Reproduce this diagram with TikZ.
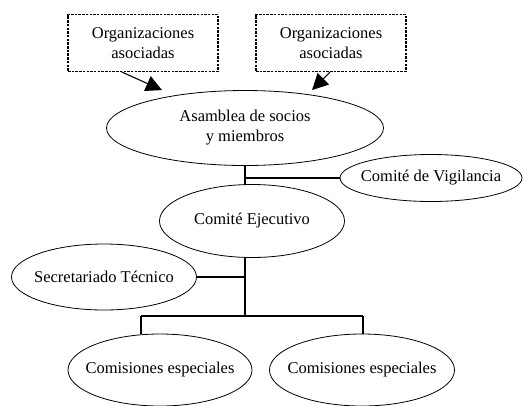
\documentclass[tikz,border=0pt]{standalone}
\usepackage{fontspec}
\setmainfont{Liberation Serif}
\usetikzlibrary{shapes.geometric,arrows.meta,positioning}
\tikzset{>={Triangle[length=16pt,width=16pt]}}

\begin{document}
\begin{tikzpicture}[x=1pt,y=-1pt,font=\fontsize{16.5}{20}\selectfont]

        % Setup the styles for the boxes, ellipses and links
        \tikzset{org style/.style={ellipse,
                                   draw=black,
                                   line width=0.8pt,
                                   inner xsep=-15pt,
                                   inner ysep=0pt,
                                   align=center},
                 assoc style/.style={rectangle,
                                     draw=black,
                                     line width=1.2pt,
                                     dash pattern=on 2.5pt off 1.2pt,
                                     align=center,
                                     minimum width=150pt,
                                     minimum height=57pt},
                 link/.style={line width=1.1pt, draw=black}}

        \useasboundingbox (0,0) rectangle (530,405);

        % Draw the associated organizations
        \node[assoc style] at (143,43) (assoc1) {Organizaciones\\asociadas};
        \node[assoc style] at (331,43) (assoc2) {Organizaciones\\asociadas};

        % Draw the organs
        \node[org style, minimum width=277pt, minimum height=75pt] at (245,128) (asamblea) {Asamblea de socios\\y miembros};
        \node[org style, minimum width=182pt, minimum height=47pt] at (431,178) (vigilancia) {Comit\'e de Vigilancia};
        \node[org style, minimum width=185pt, minimum height=73pt] at (252,221) (ejecutivo) {Comit\'e Ejecutivo};
        \node[org style, minimum width=185pt, minimum height=66pt] at (104,277) (secretariado) {Secretariado T\'ecnico};
        \node[org style, minimum width=184pt, minimum height=72pt] at (160,370) (comision1) {Comisiones especiales};
        \node[org style, minimum width=185pt, minimum height=72pt] at (362,370) (comision2) {Comisiones especiales};

        % Branch points
        \coordinate (split) at (245,316);
        \coordinate (barL) at (141,316);
        \coordinate (barR) at (363,316);

        % Connect the associated organizations with arrows
        \draw[link,->] ([xshift=-21pt]assoc1.south) -- ([xshift=-83pt]asamblea.north);
        \draw[link,->] ([xshift=-1pt]assoc2.south) -- ([xshift=67pt]asamblea.north);

        % Connect the organs with lines
        \draw[link] (asamblea.south) -- (asamblea.south |- ejecutivo.north);
        \draw[link] (asamblea.south |- vigilancia.west) -- (vigilancia.west);
        \draw[link] (split |- ejecutivo.south) -- (split);
        \draw[link] (secretariado.east) -- (secretariado.east -| split);
        \draw[link] (barL) -- (barR);
        \draw[link] (barL) -- ([yshift=-0.8pt]barL |- comision1.north);
        \draw[link] (barR) -- ([yshift=-0.2pt]barR |- comision2.north);
    \end{tikzpicture}
\end{document}
